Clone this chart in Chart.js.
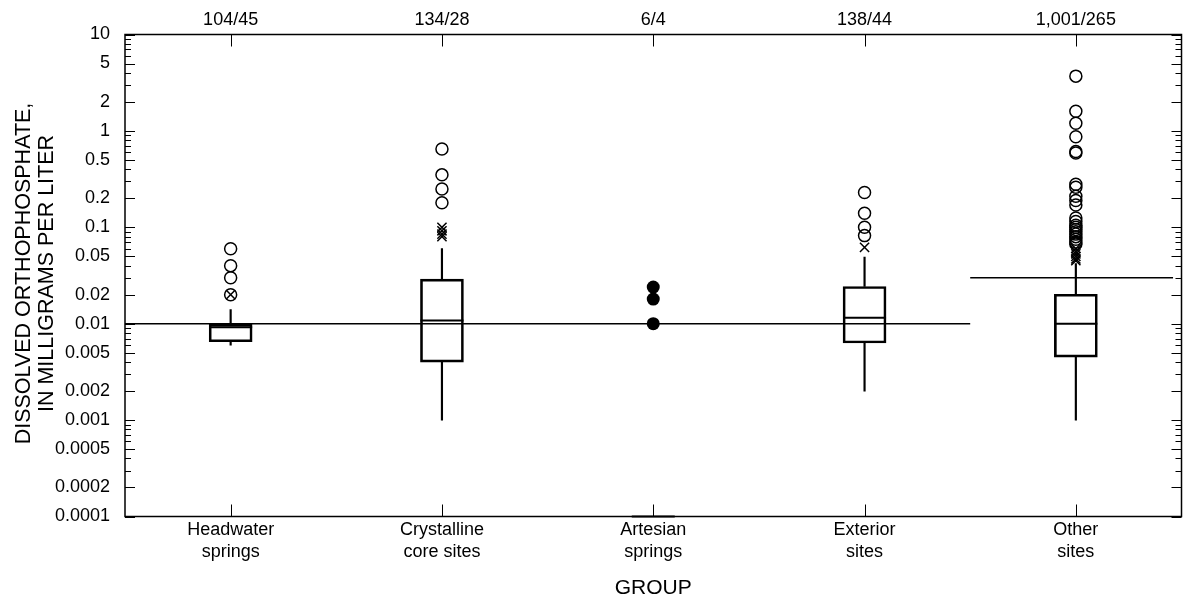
<!DOCTYPE html>
<html lang="en">
<head>
<meta charset="UTF-8">
<title>Dissolved orthophosphate by group</title>
<script src="https://cdn.jsdelivr.net/npm/chart.js"></script>
<style>
  html, body { margin: 0; padding: 0; background: #fff; overflow: hidden; }
  canvas { display: block; }
</style>
</head>
<body>

<canvas id="phosChart" width="1185" height="599"></canvas>

<script>
const groupLabels = [["Headwater", "springs"], ["Crystalline", "core sites"], ["Artesian", "springs"], ["Exterior", "sites"], ["Other", "sites"]];
const sampleCounts = ["104/45", "134/28", "6/4", "138/44", "1,001/265"];
const yTickLabels = ["0.0001", "0.0002", "0.0005", "0.001", "0.002", "0.005", "0.01", "0.02", "0.05", "0.1", "0.2", "0.5", "1", "2", "5", "10"];
const yTitleLines = ["DISSOLVED ORTHOPHOSPHATE,", "IN MILLIGRAMS PER LITER"];

// box statistics per group (null = no box drawn)
const lowWhisker  = [0.006,  0.001, null,   0.002,  0.001];
const q1          = [0.0065, 0.004, null,   0.0063, 0.0045];
const median      = [0.0092, 0.0108, 0.0001, 0.0115, 0.01];
const q3          = [0.0099, 0.029, null,   0.0243, 0.0202];
const highWhisker = [0.014,  0.06,  null,   0.049,  0.042];

// outliers per group
const circleValues = [
    [0.06, 0.04, 0.03, 0.02],
    [0.65, 0.35, 0.25, 0.18],
    [],
    [0.23, 0.14, 0.1, 0.082],
    [3.7, 1.6, 1.2, 0.87, 0.61, 0.59, 0.28, 0.26, 0.21, 0.19, 0.17, 0.125, 0.115, 0.105, 0.1, 0.095, 0.09, 0.085, 0.08, 0.075, 0.07, 0.067]
];
const crossValues = [
    [0.02],
    [0.1, 0.092, 0.085, 0.08],
    [],
    [0.062],
    [0.06, 0.056, 0.053, 0.05, 0.047, 0.045]
];
const artesianValues = [0.024, 0.018, 0.01];

// reference levels and the x range (group index) each one covers
const refLevels = [0.01, 0.03];
const refFrom = [-0.5, 3.5];
const refTo = [3.5, 4.46];

const fontFamily = "'Liberation Sans', Arial, sans-serif";
Chart.defaults.font.family = fontFamily;
Chart.defaults.color = "#000";

const idx = groupLabels.map((_, i) => i).filter(i => q1[i] !== null);
const toPoints = lists => lists.flatMap((vals, i) => vals.map(v => ({x: i, y: v})));

// frame, inward tick marks on all four sides, rotated y title
const frameTicks = {
    id: "frameTicks",
    afterDatasetsDraw(chart) {
        const {ctx, chartArea: a, scales: {x, y}} = chart;
        ctx.save();
        ctx.strokeStyle = "#000";
        ctx.lineWidth = 1.5;
        ctx.strokeRect(a.left, a.top, a.right - a.left, a.bottom - a.top);
        ctx.lineWidth = 1;
        ctx.beginPath();
        const labelled = yTickLabels.map(Number);
        for (let e = -4; e <= 1; e++) {
            for (let k = 1; k <= 9; k++) {
                const v = k * Math.pow(10, e);
                if (v > 10.0001) break;
                const py = Math.round(y.getPixelForValue(v)) + 0.5;
                const big = labelled.some(t => Math.abs(Math.log10(t / v)) < 1e-6);
                const len = big ? 10 : 6;
                ctx.moveTo(a.left, py); ctx.lineTo(a.left + len, py);
                ctx.moveTo(a.right, py); ctx.lineTo(a.right - len, py);
            }
        }
        groupLabels.forEach((_, i) => {
            const px = Math.round(x.getPixelForValue(i)) + 0.5;
            ctx.moveTo(px, a.bottom); ctx.lineTo(px, a.bottom - 12);
            ctx.moveTo(px, a.top); ctx.lineTo(px, a.top + 12);
        });
        ctx.stroke();

        ctx.translate(24, (a.top + a.bottom) / 2 - 2);
        ctx.rotate(-Math.PI / 2);
        ctx.fillStyle = "#000";
        ctx.font = "21.5px " + fontFamily;
        ctx.textAlign = "center";
        ctx.textBaseline = "middle";
        yTitleLines.forEach((line, i) => ctx.fillText(line, 0, i * 23));
        ctx.restore();
    }
};

new Chart(document.getElementById("phosChart"), {
    type: "bar",
    data: {
        datasets: [
            {
                type: "scatter",
                data: toPoints(circleValues),
                pointStyle: "circle",
                pointRadius: 6,
                pointBorderWidth: 1.5,
                pointBorderColor: "#000",
                pointBackgroundColor: "rgba(0,0,0,0)",
                order: 0
            },
            {
                type: "scatter",
                data: toPoints(crossValues),
                pointStyle: "crossRot",
                pointRadius: 6.5,
                pointBorderWidth: 1.5,
                pointBorderColor: "#000",
                order: 0
            },
            {
                type: "scatter",
                data: artesianValues.map(v => ({x: 2, y: v})),
                pointStyle: "circle",
                pointRadius: 6.5,
                pointBorderWidth: 0,
                pointBackgroundColor: "#000",
                order: 0
            },
            {
                type: "scatter",
                data: median.map((v, i) => ({x: i, y: v})),
                pointStyle: "line",
                pointRadius: 21.5,
                pointBorderWidth: 2,
                pointBorderColor: "#000",
                clip: false,
                order: 1
            },
            ...refLevels.map((lv, k) => ({
                type: "line",
                data: [{x: refFrom[k], y: lv}, {x: refTo[k], y: lv}],
                borderColor: "#000",
                borderWidth: 1.5,
                pointRadius: 0,
                order: 2
            })),
            {
                data: idx.map(i => ({x: i, y: [q1[i], q3[i]]})),
                barThickness: 43,
                backgroundColor: "rgba(0,0,0,0)",
                borderColor: "#000",
                borderWidth: 2,
                borderSkipped: false,
                grouped: false,
                order: 3
            },
            {
                data: idx.map(i => ({x: i, y: [q3[i], highWhisker[i]]})),
                barThickness: 1.5,
                backgroundColor: "#000",
                borderWidth: 0,
                grouped: false,
                order: 4
            },
            {
                data: idx.map(i => ({x: i, y: [lowWhisker[i], q1[i]]})),
                barThickness: 1.5,
                backgroundColor: "#000",
                borderWidth: 0,
                grouped: false,
                order: 4
            }
        ]
    },
    options: {
        responsive: false,
        animation: false,
        devicePixelRatio: 1,
        layout: { autoPadding: false, padding: { left: 0, top: 0, bottom: 0, right: 3.5 } },
        plugins: { legend: { display: false }, tooltip: { enabled: false } },
        scales: {
            x: {
                type: "linear",
                position: "bottom",
                min: -0.5,
                max: 4.5,
                offset: false,
                grid: { display: false, drawTicks: false },
                border: { display: false },
                afterBuildTicks: s => { s.ticks = groupLabels.map((_, i) => ({value: i})); },
                afterFit: s => { s.height = 82.5; s.paddingLeft = 0; s.paddingRight = 0; },
                ticks: {
                    autoSkip: false,
                    maxRotation: 0,
                    padding: 3,
                    font: { size: 18, lineHeight: 1.2 },
                    callback: v => groupLabels[v]
                },
                title: {
                    display: true,
                    text: "GROUP",
                    font: { size: 21, lineHeight: 1.0 },
                    padding: { top: 0, bottom: 0 }
                }
            },
            xt: {
                type: "linear",
                position: "top",
                min: -0.5,
                max: 4.5,
                offset: false,
                grid: { display: false, drawTicks: false },
                border: { display: false },
                afterBuildTicks: s => { s.ticks = sampleCounts.map((_, i) => ({value: i})); },
                afterFit: s => { s.height = 34.5; s.paddingLeft = 0; s.paddingRight = 0; },
                ticks: {
                    autoSkip: false,
                    maxRotation: 0,
                    padding: 4,
                    font: { size: 18, lineHeight: 1.2 },
                    callback: v => sampleCounts[v]
                }
            },
            y: {
                type: "logarithmic",
                min: 0.0001,
                max: 10,
                grid: { display: false, drawTicks: false },
                border: { display: false },
                afterBuildTicks: s => { s.ticks = yTickLabels.map(t => ({value: Number(t)})); },
                afterFit: s => { s.width = 125; s.paddingTop = 0; s.paddingBottom = 0; },
                ticks: {
                    autoSkip: false,
                    padding: 15,
                    font: { size: 18 },
                    callback: (v, i) => yTickLabels[i]
                }
            }
        }
    },
    plugins: [frameTicks]
});
</script>

</body>
</html>
